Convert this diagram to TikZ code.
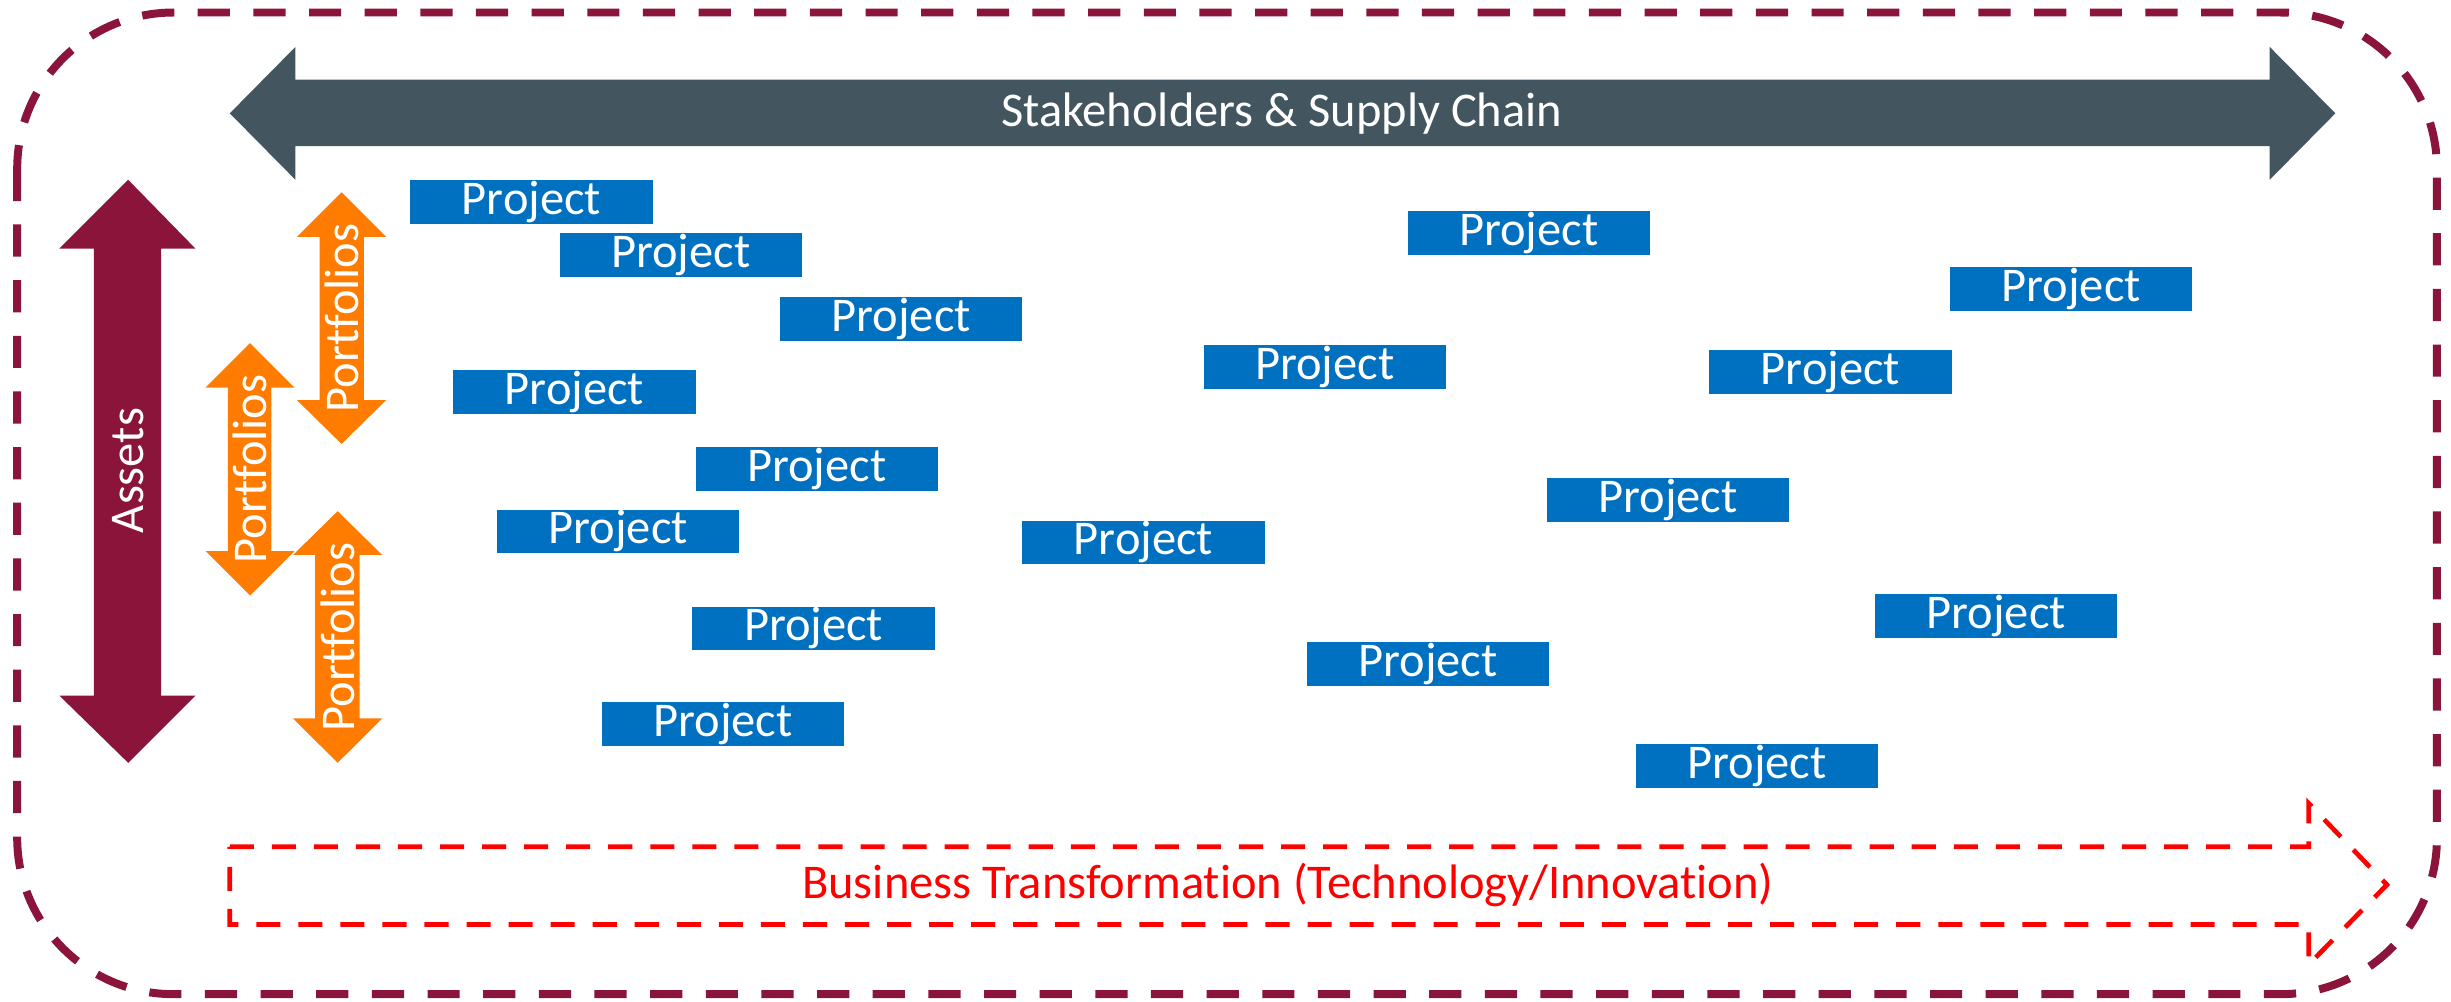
\documentclass[tikz,border=0pt]{standalone}
\usepackage{fontspec}
\setmainfont{Carlito}[Ligatures=NoCommon]
\definecolor{maroon}{RGB}{139,21,58}
\definecolor{slate}{RGB}{67,85,94}
\definecolor{orng}{RGB}{255,124,0}
\definecolor{projblue}{RGB}{0,112,192}
\definecolor{brightred}{RGB}{255,0,0}
\tikzset{
  proj/.style={fill=projblue, text=white, minimum width=155pt, minimum height=28pt, inner sep=0pt, font=\fontsize{31}{36}\selectfont},
  lbl/.style={text=white, inner sep=0pt, font=\fontsize{31}{36}\selectfont},
  outerframe/.style={draw=maroon, line width=5.1pt, dash pattern=on 20.6pt off 15pt, rounded corners=100pt},
  redarrow/.style={draw=brightred, line width=3pt, dash pattern=on 15.4pt off 11.5pt},
}
\begin{document}
\begin{tikzpicture}[x=1pt,y=-1pt]
\useasboundingbox (0,0) rectangle (1568,641);
% outer frame
\draw[outerframe] (11,8) rectangle (1559,636);
% stakeholders arrow
\fill[slate] (147,72.5) -- (189,30) -- (189,51) -- (1452,51) -- (1452,30) -- (1494,72.5) -- (1452,115) -- (1452,93.5) -- (189,93.5) -- (189,115) -- cycle;
\node[lbl] (stake) at (820,72.5) {Stakeholders \& Supply Chain};
% assets arrow
\fill[maroon] (82,115) -- (125,159) -- (103,159) -- (103,445) -- (125,445) -- (82,488) -- (38,445) -- (60,445) -- (60,159) -- (38,159) -- cycle;
\node[lbl, rotate=90] (assets) at (82,301) {Assets};
% portfolios arrows
\fill[orng] (218.5,123) -- (247,151.5) -- (232.8,151.5) -- (232.8,256) -- (247,256) -- (218.5,284) -- (190,256) -- (204.5,256) -- (204.5,151.5) -- (190,151.5) -- cycle;
\node[lbl, rotate=90] (pf1) at (218.5,203.5) {Portfolios};
\fill[orng] (160,219.5) -- (188.5,248) -- (173.6,248) -- (173.6,352.5) -- (188.5,352.5) -- (160,381) -- (131.5,352.5) -- (145.7,352.5) -- (145.7,248) -- (131.5,248) -- cycle;
\node[lbl, rotate=90] (pf2) at (160,300) {Portfolios};
\fill[orng] (216,327) -- (244.5,355) -- (230,355) -- (230,459.6) -- (244.5,459.6) -- (216,488) -- (187.5,459.6) -- (201.6,459.6) -- (201.6,355) -- (187.5,355) -- cycle;
\node[lbl, rotate=90] (pf3) at (216,407.5) {Portfolios};
% business transformation arrow
\draw[redarrow] (147,541.7) -- (1477,541.7) -- (1477,514) -- (1527,566) -- (1477,617) -- (1477,591.4) -- (147,591.4) -- cycle;
\node[text=brightred, inner sep=0pt, font=\fontsize{31}{36}\selectfont] (bt) at (824,566) {Business Transformation (Technology/Innovation)};
% projects
\node[proj] (p1) at (340,129) {Project};
\node[proj] (p2) at (435.5,163) {Project};
\node[proj] (p3) at (576.5,204) {Project};
\node[proj] (p4) at (367.5,251) {Project};
\node[proj] (p5) at (522.5,300) {Project};
\node[proj] (p6) at (395.5,340) {Project};
\node[proj] (p7) at (520.5,402) {Project};
\node[proj] (p8) at (462.5,463) {Project};
\node[proj] (p9) at (978,149) {Project};
\node[proj] (p10) at (1325,185) {Project};
\node[proj] (p11) at (847.5,235) {Project};
\node[proj] (p12) at (1171,238) {Project};
\node[proj] (p13) at (1067,320) {Project};
\node[proj] (p14) at (731.5,347) {Project};
\node[proj] (p15) at (1277,394) {Project};
\node[proj] (p16) at (913.5,425) {Project};
\node[proj] (p17) at (1124,490) {Project};
\end{tikzpicture}
\end{document}
